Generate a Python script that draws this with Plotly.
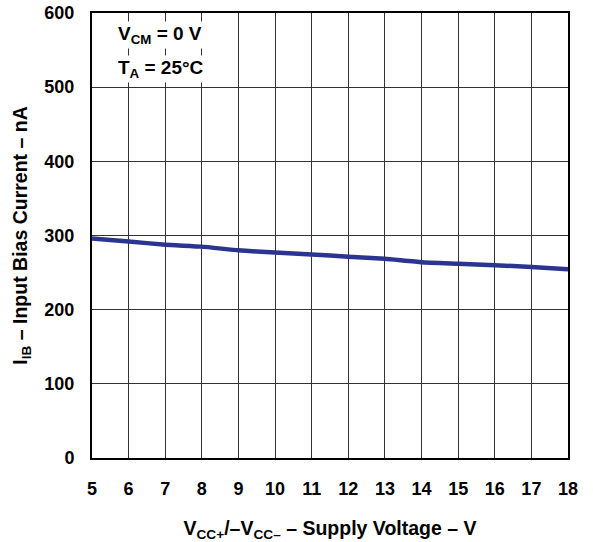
import plotly.graph_objects as go

supply_v = [5, 6, 7, 8, 9, 10, 11, 12, 13, 14, 15, 16, 17, 18]
ib_na = [296, 292, 287.5, 285, 280, 277, 274.5, 271.5, 268.5, 264, 262, 260, 257.5, 254.5]
x_ticks = list(range(5, 19))
y_ticks = [0, 100, 200, 300, 400, 500, 600]

font_family = "Liberation Sans, Arial, sans-serif"

fig = go.Figure()
fig.add_trace(go.Scatter(x=supply_v, y=ib_na, mode="lines",
                         line=dict(color="#2b3591", width=4.5, shape="spline", smoothing=0.4),
                         showlegend=False))

fig.update_layout(
    width=593, height=542,
    margin=dict(l=92, r=25, t=13, b=84),
    paper_bgcolor="white", plot_bgcolor="white",
    font=dict(family=font_family, color="black", size=18),
    xaxis=dict(range=[5, 18], tickvals=x_ticks, ticktext=[f"<b>{v}</b>" for v in x_ticks],
               showgrid=True, gridcolor="#333", gridwidth=1,
               showline=True, linecolor="black", linewidth=2, mirror=True,
               ticks="", ticklabelstandoff=13, zeroline=False, automargin=False,
               title=dict(text="<b>V<sub>CC+</sub>/–V<sub>CC–</sub> – Supply Voltage – V</b>",
                          font=dict(size=19.5), standoff=24)),
    yaxis=dict(range=[0, 600], tickvals=y_ticks, ticktext=[f"<b>{v}</b>" for v in y_ticks],
               showgrid=True, gridcolor="#333", gridwidth=1,
               showline=True, linecolor="black", linewidth=2, mirror=True,
               ticks="", ticklabelstandoff=12, zeroline=False, automargin=False,
               title=dict(text="<b>I<sub>IB</sub> – Input Bias Current – nA</b>",
                          font=dict(size=19.5), standoff=12)),
    annotations=[
        dict(x=0.05, y=0.95, xref="paper", yref="paper", xanchor="left", yanchor="middle",
             text="<b>V<sub>CM</sub> = 0 V</b>", showarrow=False, font=dict(size=19),
             bgcolor="white"),
        dict(x=0.05, y=0.875, xref="paper", yref="paper", xanchor="left", yanchor="middle",
             text="<b>T<sub>A</sub> = 25°C</b>", showarrow=False, font=dict(size=19),
             bgcolor="white"),
    ],
)

fig.write_html("out.html", config={"displayModeBar": False},
               post_script="document.body.style.margin='0';document.body.style.overflow='hidden';")
